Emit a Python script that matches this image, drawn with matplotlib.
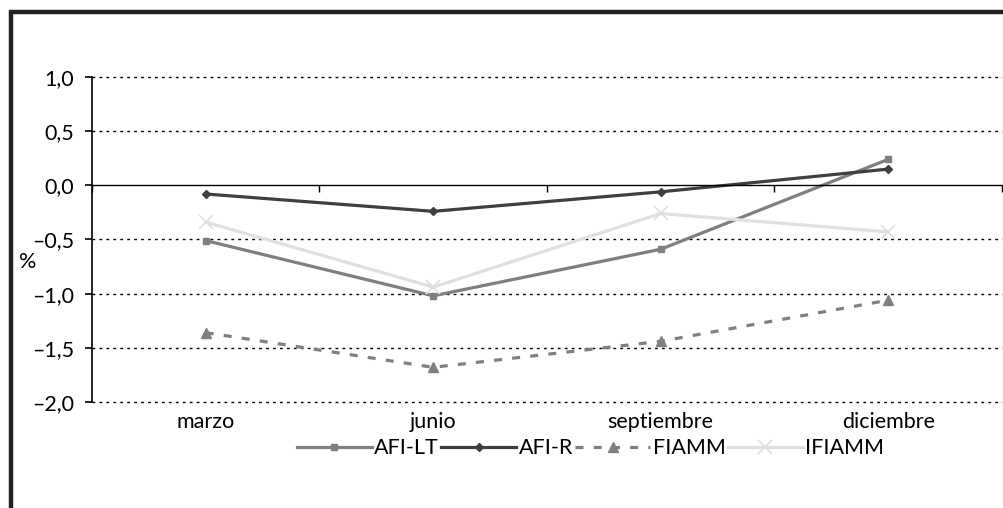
import matplotlib
matplotlib.use("Agg")
import matplotlib.pyplot as plt
from matplotlib.patches import Rectangle

plt.rcParams['font.family'] = ['Lato', 'DejaVu Sans']

categories = ['marzo', 'junio', 'septiembre', 'diciembre']
afi_lt = [-0.51, -1.02, -0.59, 0.24]
afi_r = [-0.08, -0.24, -0.06, 0.15]
fiamm = [-1.36, -1.68, -1.44, -1.06]
ifiamm = [-0.34, -0.94, -0.26, -0.43]
yticks = [1.0, 0.5, 0.0, -0.5, -1.0, -1.5, -2.0]

fig = plt.figure(figsize=(10.04, 5.08), dpi=100)
fig.patches.append(Rectangle((0.0105, -0.2), 1.2, 1.176, transform=fig.transFigure,
                             fill=False, edgecolor='#222222', linewidth=3.2))

ax = fig.add_axes([0.0916, 0.2087, 0.9064, 0.6397])
x = range(len(categories))

ax.plot(x, afi_lt, color='#7f7f7f', lw=2.3, marker='s', ms=4.5, label='AFI-LT')
ax.plot(x, afi_r, color='#3f3f3f', lw=2.3, marker='D', ms=4.5, label='AFI-R')
ax.plot(x, fiamm, color='#7f7f7f', lw=2.3, marker='^', ms=7.5, dashes=(2.5, 3.2),
        label='FIAMM')
ax.plot(x, ifiamm, color='#e0e0e0', lw=2.3, marker='x', ms=10, mew=1.2,
        label='IFIAMM')

ax.set_xlim(-0.5, len(categories) - 0.5)
ax.set_ylim(-2.0, 1.0)

for y in yticks:
    if y != 0:
        ax.axhline(y, color='black', lw=1.0, linestyle=(0, (2, 3)), zorder=0,
                   clip_on=False)

for s in ['top', 'right']:
    ax.spines[s].set_visible(False)
ax.spines['bottom'].set_position(('data', 0))
ax.spines['bottom'].set_linewidth(1.0)
ax.spines['left'].set_linewidth(1.2)

fs = 15.5
ax.set_yticks(yticks)
ax.set_yticklabels([f'{v:.1f}'.replace('.', ',').replace('-', '\u2013') for v in yticks],
                   fontsize=fs)
ax.tick_params(axis='y', direction='out', length=5, width=1.2, pad=8)
ax.set_xticks([i + 0.5 for i in range(-1, len(categories))])
ax.set_xticklabels([])
ax.tick_params(axis='x', direction='out', length=5, width=1.0)

sec = ax.secondary_xaxis('bottom')
sec.set_xticks(list(x))
sec.set_xticklabels(categories, fontsize=fs)
sec.tick_params(length=0, pad=7)
sec.spines['bottom'].set_visible(False)

ax.set_ylabel('%', rotation=0, fontsize=fs)
ax.yaxis.set_label_coords(-0.071, 0.4)

fig.legend(loc='center', bbox_to_anchor=(0.588, 0.118), ncol=4, frameon=False,
           fontsize=fs, handlelength=3.5, handletextpad=0.1, columnspacing=0.1,
           borderaxespad=0)

fig.savefig('out.png', dpi=100)
